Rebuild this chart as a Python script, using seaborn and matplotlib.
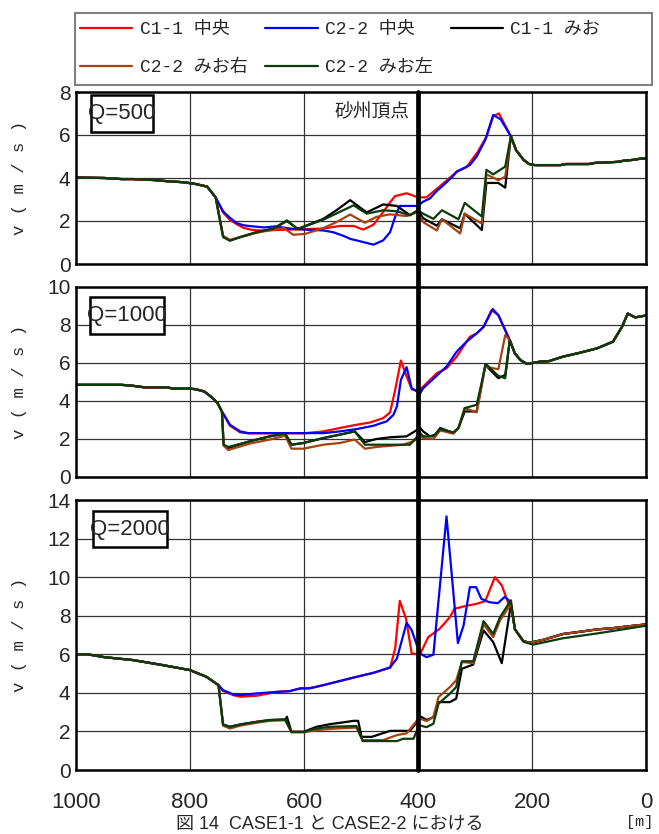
import numpy as np
import pandas as pd
import matplotlib
matplotlib.use("Agg")
import matplotlib.pyplot as plt
import seaborn as sns
from matplotlib.lines import Line2D
from matplotlib.patches import Rectangle
from matplotlib.ticker import MultipleLocator
from matplotlib.transforms import blended_transform_factory


# ================== DATA ==================
SERIES = ["C1-1 中央", "C2-2 中央", "C1-1 みお", "C2-2 みお右", "C2-2 みお左"]
COLORS = ["#ff0000", "#0000ff", "#000000", "#a5430f", "#0b3b0b"]
PANELS = ["Q=500", "Q=1000", "Q=2000"]
Y_MAX = [8, 10, 14]

# ---- Q=500 ----
q500_left = [(1000, 4.02), (950, 4.0), (920, 3.95), (900, 3.95), (860, 3.9), (840, 3.85),
             (810, 3.8), (790, 3.72), (770, 3.6), (755, 3.1)]
q500_right = [(237, 5.94), (228, 5.3), (215, 4.85), (205, 4.65), (195, 4.6), (150, 4.6),
              (140, 4.65), (100, 4.65), (90, 4.7), (50, 4.75), (40, 4.8), (20, 4.85),
              (10, 4.9), (0, 4.9)]
q500_red = [(742, 2.4), (730, 2.05), (718, 1.85), (706, 1.68), (690, 1.58), (670, 1.55),
            (650, 1.58), (625, 1.6), (600, 1.62), (566, 1.65), (537, 1.77), (513, 1.77),
            (496, 1.6), (478, 1.83), (461, 2.42), (448, 2.9), (440, 3.16), (420, 3.29),
            (400, 3.1), (385, 3.1), (361, 3.63), (332, 4.29), (315, 4.5), (295, 5.22),
            (280, 5.92), (268, 6.88), (258, 7.0)]
q500_blue = [(742, 2.45), (730, 2.15), (718, 1.9), (706, 1.8), (690, 1.75), (670, 1.7),
             (650, 1.75), (625, 1.65), (600, 1.6), (566, 1.56), (549, 1.48), (530, 1.3),
             (519, 1.17), (496, 1.02), (478, 0.9), (461, 1.1), (449, 1.48), (440, 2.2),
             (432, 2.7), (415, 2.7), (400, 2.7), (391, 2.9), (379, 3.05), (367, 3.4),
             (356, 3.65), (340, 4.05), (332, 4.3), (309, 4.6), (297, 5.0), (282, 5.77),
             (268, 6.93), (255, 6.73)]
q500_black = [(742, 1.3), (730, 1.1), (712, 1.25), (683, 1.48), (654, 1.64), (630, 2.0),
              (613, 1.67), (607, 1.67), (566, 2.1), (543, 2.5), (519, 2.97), (490, 2.4),
              (461, 2.77), (437, 2.7), (414, 2.27), (400, 2.5), (391, 2.13), (367, 1.78),
              (358, 2.08), (326, 1.66), (318, 2.34), (288, 1.58), (280, 3.77), (259, 3.77),
              (247, 3.55)]
q500_brown = [(742, 1.3), (730, 1.12), (712, 1.25), (683, 1.45), (654, 1.6), (635, 1.67),
              (619, 1.36), (598, 1.4), (566, 1.67), (543, 1.95), (519, 2.3), (493, 1.92),
              (473, 2.19), (449, 2.31), (420, 2.23), (400, 2.42), (391, 1.95), (367, 1.56),
              (358, 2.08), (326, 1.42), (318, 2.34), (288, 1.88), (280, 4.17), (259, 3.9),
              (247, 4.06)]
q500_green = [(742, 1.25), (730, 1.08), (712, 1.25), (683, 1.48), (654, 1.64), (630, 2.03),
              (613, 1.67), (607, 1.67), (566, 2.06), (513, 2.73), (490, 2.34), (461, 2.5),
              (437, 2.45), (414, 2.27), (400, 2.5), (391, 2.34), (373, 2.1), (358, 2.5),
              (329, 2.08), (318, 2.84), (288, 2.21), (280, 4.38), (268, 4.17), (247, 4.53)]

# ---- Q=1000 ----
q1000_left = [(1000, 4.85), (960, 4.85), (920, 4.85), (900, 4.8), (880, 4.72), (840, 4.72),
              (830, 4.65), (800, 4.65), (790, 4.62), (775, 4.5), (762, 4.2), (752, 3.9),
              (744, 3.45)]
q1000_right = [(239, 7.2), (230, 6.5), (220, 6.15), (209, 5.95), (186, 6.07), (170, 6.1),
               (146, 6.33), (116, 6.54), (86, 6.77), (58, 7.12), (42, 7.91), (32, 8.6),
               (19, 8.4), (0, 8.5)]
q1000_red = [(730, 2.7), (712, 2.35), (698, 2.3), (650, 2.3), (600, 2.3), (566, 2.4),
             (537, 2.58), (508, 2.75), (484, 2.87), (461, 3.1), (449, 3.4), (440, 4.59),
             (430, 6.13), (421, 5.37), (411, 4.62), (399, 4.5), (391, 4.76), (367, 5.46),
             (350, 5.72), (332, 6.34), (309, 7.38), (297, 7.56), (285, 7.9), (271, 8.78),
             (259, 8.52)]
q1000_blue = [(730, 2.75), (712, 2.4), (698, 2.31), (650, 2.31), (600, 2.31), (566, 2.31),
              (537, 2.4), (508, 2.52), (478, 2.7), (455, 2.93), (443, 3.28), (437, 3.71),
              (430, 5.11), (420, 5.78), (411, 4.67), (396, 4.41), (391, 4.67), (350, 5.81),
              (332, 6.6), (315, 7.12), (297, 7.56), (285, 7.9), (269, 8.84), (259, 8.52)]
q1000_black = [(741, 1.7), (733, 1.52), (695, 1.88), (660, 2.14), (633, 2.28), (622, 1.7),
               (601, 1.79), (566, 2.05), (537, 2.23), (511, 2.4), (493, 1.84), (473, 2.0),
               (449, 2.09), (420, 2.14), (396, 2.58), (391, 2.4), (379, 2.14), (370, 2.23),
               (361, 2.58), (338, 2.31), (329, 2.58), (318, 3.45), (297, 3.45), (282, 5.9),
               (259, 5.2), (247, 5.37)]
q1000_brown = [(741, 1.65), (733, 1.42), (695, 1.76), (660, 1.97), (633, 2.17), (622, 1.49),
               (601, 1.49), (566, 1.7), (537, 1.79), (511, 1.97), (493, 1.49), (473, 1.58),
               (426, 1.7), (408, 1.88), (396, 2.14), (391, 2.05), (373, 2.0), (361, 2.45),
               (338, 2.28), (329, 2.58), (318, 3.63), (297, 3.4), (282, 5.81), (259, 5.67),
               (247, 7.47)]
q1000_green = [(741, 1.7), (733, 1.58), (695, 1.88), (660, 2.14), (633, 2.28), (622, 1.7),
               (601, 1.79), (566, 2.05), (537, 2.23), (511, 2.4), (493, 1.7), (414, 1.7),
               (396, 2.31), (391, 2.14), (373, 2.14), (361, 2.52), (338, 2.35), (329, 2.58),
               (318, 3.63), (297, 3.8), (281, 5.95), (259, 5.32), (247, 5.2)]

# ---- Q=2000 ----
q2000_left = [(1000, 6.0), (980, 6.0), (950, 5.85), (900, 5.7), (850, 5.45), (800, 5.18),
              (771, 4.83), (750, 4.4)]
q2000_right = [(237, 8.6), (230, 7.3), (215, 6.68), (204, 6.6), (180, 6.75), (146, 7.05),
               (120, 7.15), (86, 7.29), (60, 7.35), (28, 7.46), (0, 7.55)]
q2000_right_green = [(237, 8.8), (230, 7.3), (215, 6.65), (198, 6.5), (146, 6.83),
                     (86, 7.08), (28, 7.35), (0, 7.48)]
q2000_red = [(742, 4.1), (724, 3.88), (712, 3.8), (683, 3.85), (648, 4.05), (625, 4.09),
             (607, 4.23), (590, 4.25), (566, 4.4), (543, 4.57), (508, 4.83), (478, 5.04),
             (449, 5.3), (440, 6.3), (432, 8.77), (421, 7.85), (411, 6.04), (399, 5.99),
             (396, 6.03), (382, 6.89), (362, 7.32), (344, 7.93), (336, 8.36), (320, 8.48),
             (297, 8.62), (282, 8.76), (265, 10.0), (253, 9.57), (239, 8.45)]
q2000_blue = [(742, 4.14), (724, 3.92), (712, 3.88), (683, 3.97), (648, 4.05), (625, 4.09),
              (607, 4.23), (590, 4.23), (566, 4.4), (543, 4.57), (508, 4.83), (478, 5.04),
              (449, 5.32), (437, 5.78), (420, 7.63), (411, 7.25), (399, 6.21), (396, 6.03),
              (385, 5.85), (373, 5.98), (350, 13.15), (342, 10.52), (330, 6.58), (320, 7.5),
              (309, 9.48), (298, 9.48), (289, 8.88), (275, 8.7), (260, 8.65), (248, 8.97),
              (239, 8.76)]
q2000_black = [(742, 2.36), (730, 2.24), (712, 2.36), (683, 2.5), (660, 2.59), (633, 2.62),
               (630, 2.76), (622, 1.98), (601, 1.98), (578, 2.24), (554, 2.38), (531, 2.47),
               (513, 2.55), (505, 2.55), (499, 1.72), (481, 1.72), (449, 2.03), (414, 2.03),
               (399, 2.59), (396, 2.78), (385, 2.6), (373, 2.74), (364, 3.52), (344, 3.52),
               (333, 3.7), (323, 5.25), (303, 5.47), (285, 7.24), (268, 6.63), (253, 5.54)]
q2000_brown = [(742, 2.3), (730, 2.15), (712, 2.3), (683, 2.45), (660, 2.55), (633, 2.58),
               (622, 1.95), (601, 1.95), (578, 2.07), (543, 2.15), (508, 2.2), (497, 1.55),
               (461, 1.55), (437, 1.81), (420, 1.9), (399, 2.67), (396, 2.66), (385, 2.54),
               (373, 2.74), (364, 3.78), (344, 4.3), (333, 4.65), (323, 5.6), (303, 5.54),
               (285, 7.55), (268, 6.89), (256, 7.76)]
q2000_green = [(742, 2.36), (730, 2.24), (712, 2.36), (683, 2.5), (660, 2.59), (633, 2.62),
               (622, 1.98), (601, 1.98), (578, 2.15), (554, 2.24), (508, 2.28), (497, 1.5),
               (437, 1.5), (426, 1.62), (408, 1.62), (399, 2.24), (396, 2.31), (385, 2.22),
               (373, 2.4), (364, 3.44), (344, 3.96), (333, 4.3), (323, 5.64), (303, 5.64),
               (285, 7.72), (268, 7.06), (256, 7.93)]


# ================== HELPERS ==================
def build_frame(left, mids, rights):
    rows = []
    for name, mid, right in zip(SERIES, mids, rights):
        for x, v in left + mid + right:
            rows.append({"x": x, "v": v, "series": name})
    return pd.DataFrame(rows)


def px_rect(x0, y0, x1, y1, **kw):
    # rectangle given in picture pixels (top-left origin)
    return Rectangle((x0 / W, 1 - y1 / H), (x1 - x0) / W, (y1 - y0) / H,
                     transform=fig.transFigure, **kw)


frames = [
    build_frame(q500_left,
                [q500_red, q500_blue, q500_black, q500_brown, q500_green],
                [q500_right] * 5),
    build_frame(q1000_left,
                [q1000_red, q1000_blue, q1000_black, q1000_brown, q1000_green],
                [q1000_right] * 5),
    build_frame(q2000_left,
                [q2000_red, q2000_blue, q2000_black, q2000_brown, q2000_green],
                [q2000_right] * 4 + [q2000_right_green]),
]

# ================== PLOT ==================
sns.set_style("white")
plt.rcParams["font.family"] = ["Liberation Sans", "Noto Sans CJK JP"]
MONO = ["Liberation Mono", "Noto Sans CJK JP"]
W, H = 659, 834

fig = plt.figure(figsize=(W / 100, H / 100), dpi=100)
boxes = [(92, 264), (287, 477), (500, 770)]  # top / bottom pixel rows of the panels
axes = []
for (top, bot) in boxes:
    axes.append(fig.add_axes([76 / W, 1 - bot / H, 570 / W, (bot - top) / H]))

qboxes = [(91, 95, 153, 132), (90, 297, 164, 334), (93, 511, 167, 547)]

for i, ax in enumerate(axes):
    sns.lineplot(data=frames[i], x="x", y="v", hue="series", hue_order=SERIES,
                 palette=COLORS, sort=False, estimator=None, legend=False,
                 lw=1.6, ax=ax)
    ax.set_xlim(1000, 0)
    ax.set_ylim(0, Y_MAX[i])
    ax.xaxis.set_major_locator(MultipleLocator(200))
    ax.xaxis.set_minor_locator(MultipleLocator(100))
    ax.yaxis.set_major_locator(MultipleLocator(2))
    ax.yaxis.set_minor_locator(MultipleLocator(1))
    ax.grid(which="major", color="#333333", lw=0.9)
    ax.set_axisbelow(True)
    ax.tick_params(which="both", direction="in", length=5, width=0.9, color="#333333")
    ax.tick_params(axis="y", labelsize=15, pad=4)
    ax.tick_params(axis="x", labelsize=16, pad=16)
    for s in ax.spines.values():
        s.set_color("black")
        s.set_linewidth(1.8)
    ax.set_xlabel("")
    ax.set_ylabel("")
    if i < 2:
        ax.tick_params(axis="x", labelbottom=False)

    # boxed discharge label
    x0, y0, x1, y1 = qboxes[i]
    fig.add_artist(px_rect(x0, y0, x1, y1, fc="white", ec="black", lw=1.8, zorder=5))
    fig.text((x0 + x1) / 2 / W, 1 - (y0 + y1) / 2 / H, PANELS[i], ha="center",
             va="center", fontsize=16, zorder=6)

    top, bot = boxes[i]
    fig.text(20 / W, 1 - (top + bot) / 2 / H, "v ( m / s )", rotation=90,
             ha="center", va="center", fontsize=12.5, family=MONO)

axes[0].text(0.52, 0.885, "砂州頂点", transform=axes[0].transAxes, ha="center",
             va="center", fontsize=13.5, family=["Noto Sans CJK JP"])

# thick line at the sandbar apex, spanning all panels
trans = blended_transform_factory(axes[0].transData, fig.transFigure)
fig.add_artist(Line2D([400, 400], [1 - 92 / H, 1 - 770 / H], transform=trans,
                      color="black", lw=3.4, zorder=10))

# legend with its own frame
handles = [Line2D([], [], color=c, lw=1.6) for c in COLORS]
order = [0, 3, 1, 4, 2]
fig.legend([handles[k] for k in order], [SERIES[k] for k in order],
           loc="upper left", bbox_to_anchor=(80 / W, 1 - 21 / H),
           ncol=3, frameon=False, prop={"family": MONO, "size": 13},
           handlelength=2.9, handletextpad=0.4, labelspacing=1.18,
           columnspacing=1.0, borderaxespad=0, borderpad=0)
fig.add_artist(px_rect(75, 13, 652, 85, fill=False, ec="#808080", lw=1.5))

fig.text(0.5, 1 / H, "図 14  CASE1-1 と CASE2-2 における", ha="center", va="bottom",
         fontsize=13, family=["Liberation Sans", "Noto Sans CJK JP"])
fig.text(640 / W, 1 - 815 / H, "[m]", ha="center", va="top", fontsize=11, family=MONO)

fig.savefig("out.png", dpi=100)
